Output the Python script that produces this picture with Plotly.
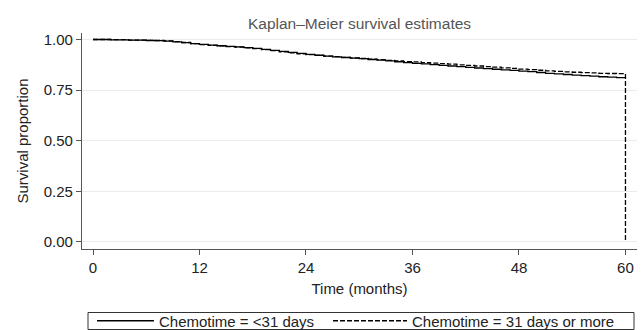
import plotly.graph_objects as go

# Kaplan-Meier step estimates
months_lt31 = [0, 2, 4, 6, 7, 8, 9, 10, 11, 12, 13, 14, 15, 16, 17, 18, 19, 20, 21, 22, 23, 24,
               25, 26, 27, 28, 29, 30, 31, 32, 33, 34, 35, 36, 37, 38, 39, 40, 41, 42, 43, 44,
               45, 46, 47, 48, 49, 50, 51, 52, 53, 54, 55, 56, 57, 58, 59, 60]
surv_lt31 = [1.000, 0.998, 0.997, 0.995, 0.994, 0.992, 0.988, 0.984, 0.980, 0.976, 0.972, 0.969,
             0.966, 0.963, 0.960, 0.956, 0.951, 0.946, 0.941, 0.936, 0.931, 0.926, 0.922, 0.918,
             0.914, 0.911, 0.908, 0.905, 0.901, 0.898, 0.894, 0.890, 0.886, 0.882, 0.879, 0.876,
             0.872, 0.869, 0.866, 0.862, 0.859, 0.856, 0.853, 0.850, 0.847, 0.844, 0.841, 0.837,
             0.833, 0.830, 0.827, 0.824, 0.821, 0.819, 0.816, 0.814, 0.812, 0.810]

months_ge31 = [0, 2, 4, 6, 7, 8, 9, 10, 11, 12, 13, 14, 15, 16, 17, 18, 19, 20, 21, 22, 23, 24,
               25, 26, 27, 28, 29, 30, 31, 32, 33, 34, 35, 36, 37, 38, 39, 40, 41, 42, 43, 44,
               45, 46, 47, 48, 49, 50, 51, 52, 53, 54, 55, 56, 57, 58, 59, 60, 60]
surv_ge31 = [1.000, 0.999, 0.997, 0.996, 0.995, 0.993, 0.989, 0.985, 0.980, 0.975, 0.971, 0.968,
             0.965, 0.962, 0.959, 0.955, 0.950, 0.945, 0.939, 0.934, 0.929, 0.925, 0.921, 0.918,
             0.915, 0.912, 0.909, 0.906, 0.903, 0.900, 0.897, 0.894, 0.891, 0.889, 0.886, 0.883,
             0.881, 0.878, 0.875, 0.872, 0.869, 0.866, 0.863, 0.860, 0.857, 0.854, 0.851, 0.848,
             0.845, 0.842, 0.840, 0.838, 0.836, 0.835, 0.833, 0.832, 0.831, 0.830, 0.000]

label_lt31 = "Chemotime = <31 days"
label_ge31 = "Chemotime = 31 days or more"

x_ticks = [0, 12, 24, 36, 48, 60]
y_ticks = [0.0, 0.25, 0.5, 0.75, 1.0]
y_tick_text = ["0.00", "0.25", "0.50", "0.75", "1.00"]

font_family = "Liberation Sans, Arial, sans-serif"
txt = "#222222"

fig = go.Figure()
fig.add_trace(go.Scatter(x=months_lt31, y=surv_lt31, mode="lines", name=label_lt31,
                         legend="legend",
                         line=dict(color="black", width=1.3, shape="hv")))
fig.add_trace(go.Scatter(x=months_ge31, y=surv_ge31, mode="lines", name=label_ge31,
                         legend="legend2",
                         line=dict(color="black", width=1.3, shape="hv", dash="5px,2px")))

legend_common = dict(orientation="h", xanchor="left",
                     y=(249 - 321) / 216, yanchor="middle",
                     bgcolor="rgba(0,0,0,0)", borderwidth=0,
                     font=dict(size=15, color=txt, family=font_family))

fig.update_layout(
    width=644, height=330,
    margin=dict(l=82, r=7, t=33, b=81, autoexpand=False),
    paper_bgcolor="white", plot_bgcolor="white",
    font=dict(family=font_family, size=15, color=txt),
    title=dict(text="Kaplan\u2013Meier survival estimates", x=0.5, xref="paper",
               xanchor="center", y=1 - 24 / 330, yanchor="middle",
               font=dict(size=15.5, color="#555555", family=font_family)),
    showlegend=True,
    legend=dict(x=(92 - 82) / 555, itemwidth=57, **legend_common),
    legend2=dict(x=(328 - 82) / 555, itemwidth=74, **legend_common),
    shapes=[dict(type="rect", xref="paper", yref="paper",
                 x0=(88 - 82) / 555, x1=(634 - 82) / 555,
                 y0=(249 - 329.5) / 216, y1=(249 - 312.5) / 216,
                 line=dict(color="#333333", width=1), fillcolor="rgba(0,0,0,0)")],
)

fig.update_xaxes(range=[-1.24, 61.3], tickvals=x_ticks, ticks="outside", ticklen=5,
                 tickcolor="#555555", showline=True, linecolor="#555555", linewidth=1.2,
                 showgrid=False, zeroline=False,
                 title=dict(text="Time (months)", standoff=8,
                            font=dict(size=15, color=txt)),
                 tickfont=dict(size=15, color=txt))
fig.update_yaxes(range=[-0.035, 1.032], tickvals=y_ticks, ticktext=y_tick_text,
                 ticks="outside", ticklen=5, tickcolor="#555555",
                 showline=True, linecolor="#555555", linewidth=1.2,
                 showgrid=True, gridcolor="#ebebeb", gridwidth=1, zeroline=False,
                 title=dict(text="Survival proportion", standoff=11,
                            font=dict(size=15, color=txt)),
                 tickfont=dict(size=15, color=txt))

fig.write_html("out.html", config={"displayModeBar": False},
               post_script="document.body.style.margin='0px';")
